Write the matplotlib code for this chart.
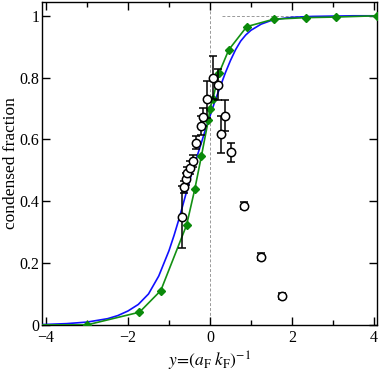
import numpy as np
import matplotlib
matplotlib.use('Agg')
import matplotlib.pyplot as plt
from matplotlib.ticker import MultipleLocator

plt.rcParams['font.family'] = 'Liberation Serif'
plt.rcParams['mathtext.fontset'] = 'stix'

# theory curve (blue)
x_blue = [-4.1, -3.5, -3.0, -2.5, -2.25, -2.0, -1.75, -1.5, -1.25, -1.0, -0.875,
          -0.75, -0.625, -0.5, -0.375, -0.25, -0.125, 0.0, 0.125, 0.25, 0.375,
          0.5, 0.625, 0.75, 0.875, 1.0, 1.25, 1.5, 1.75, 2.0, 2.5, 3.0, 3.5, 4.1]
y_blue = [0.001, 0.004, 0.009, 0.02, 0.03, 0.045, 0.066, 0.10, 0.158, 0.24, 0.29,
          0.345, 0.405, 0.465, 0.52, 0.572, 0.625, 0.675, 0.725, 0.77, 0.815,
          0.855, 0.89, 0.918, 0.938, 0.953, 0.973, 0.985, 0.991, 0.995, 0.998,
          0.999, 1.0, 1.0]

# second calculation (green, with markers)
x_green = [-4.1, -3.0, -1.72, -1.2, -0.57, -0.37, -0.21, -0.04, 0.0, 0.07,
           0.22, 0.46, 0.9, 1.56, 2.34, 3.09, 4.07]
y_green = [0.0, 0.0, 0.041, 0.111, 0.323, 0.439, 0.545, 0.662, 0.70, 0.73,
           0.814, 0.89, 0.965, 0.989, 0.994, 0.996, 1.0]

# experiment
x_exp = [-0.68, -0.63, -0.585, -0.55, -0.49, -0.42, -0.33, -0.22, -0.18, -0.08,
         0.08, 0.19, 0.27, 0.38, 0.51, 0.83, 1.24, 1.77]
y_exp = [0.35, 0.446, 0.471, 0.49, 0.509, 0.531, 0.59, 0.645, 0.672, 0.73,
         0.80, 0.777, 0.617, 0.677, 0.558, 0.386, 0.221, 0.094]
e_exp = [0.10, 0.02, 0.02, 0.02, 0.02, 0.02, 0.02, 0.03, 0.03, 0.06,
         0.07, 0.05, 0.06, 0.05, 0.03, 0.01, 0.01, 0.01]

fig = plt.figure(figsize=(3.82, 3.76), dpi=100)
ax = fig.add_axes([0.110, 0.136, 0.877, 0.859])

ax.axvline(0, color='#999999', ls=(0, (3, 2)), lw=0.7, zorder=1)
ax.plot([0.3, 4.2], [1, 1], color='#999999', ls=(0, (3, 2)), lw=0.7, zorder=1)

ax.plot(x_blue, y_blue, color='#1010ff', lw=1.2, zorder=3)
ax.plot(x_green, y_green, color='#139013', lw=1.2, marker='D', ms=3.8,
        mfc='#0a8a0a', mec='#0a8a0a', markevery=list(range(1, len(x_green))), zorder=4)

ax.errorbar(x_exp, y_exp, yerr=e_exp, fmt='o', ms=6, mfc='white', mec='black',
            mew=1.1, ecolor='black', elinewidth=1.1, capsize=3, capthick=1.1, zorder=5)

ax.set_xlim(-4.1, 4.08)
ax.set_ylim(0, 1.045)
ax.xaxis.set_major_locator(MultipleLocator(2))
ax.xaxis.set_minor_locator(MultipleLocator(1))
ax.set_yticks([0, 0.2, 0.4, 0.6, 0.8, 1])
ax.set_yticklabels(['0', '0.2', '0.4', '0.6', '0.8', '1'])
ax.tick_params(which='both', direction='in', top=True, right=True, labelsize=11.5)
ax.tick_params(axis='y', pad=2)
ax.tick_params(which='major', length=6, width=1)
ax.tick_params(which='minor', length=3.5, width=1)
for s in ax.spines.values():
    s.set_linewidth(1.0)

ax.set_ylabel('condensed fraction', fontsize=12.5)
ax.yaxis.set_label_coords(-0.068, 0.5)
ax.set_xlabel(r'$y\!=\!(a_{\rm F}\;k_{\rm F})^{-1}$', fontsize=12.5, labelpad=3)

fig.savefig('out.png', dpi=100)
